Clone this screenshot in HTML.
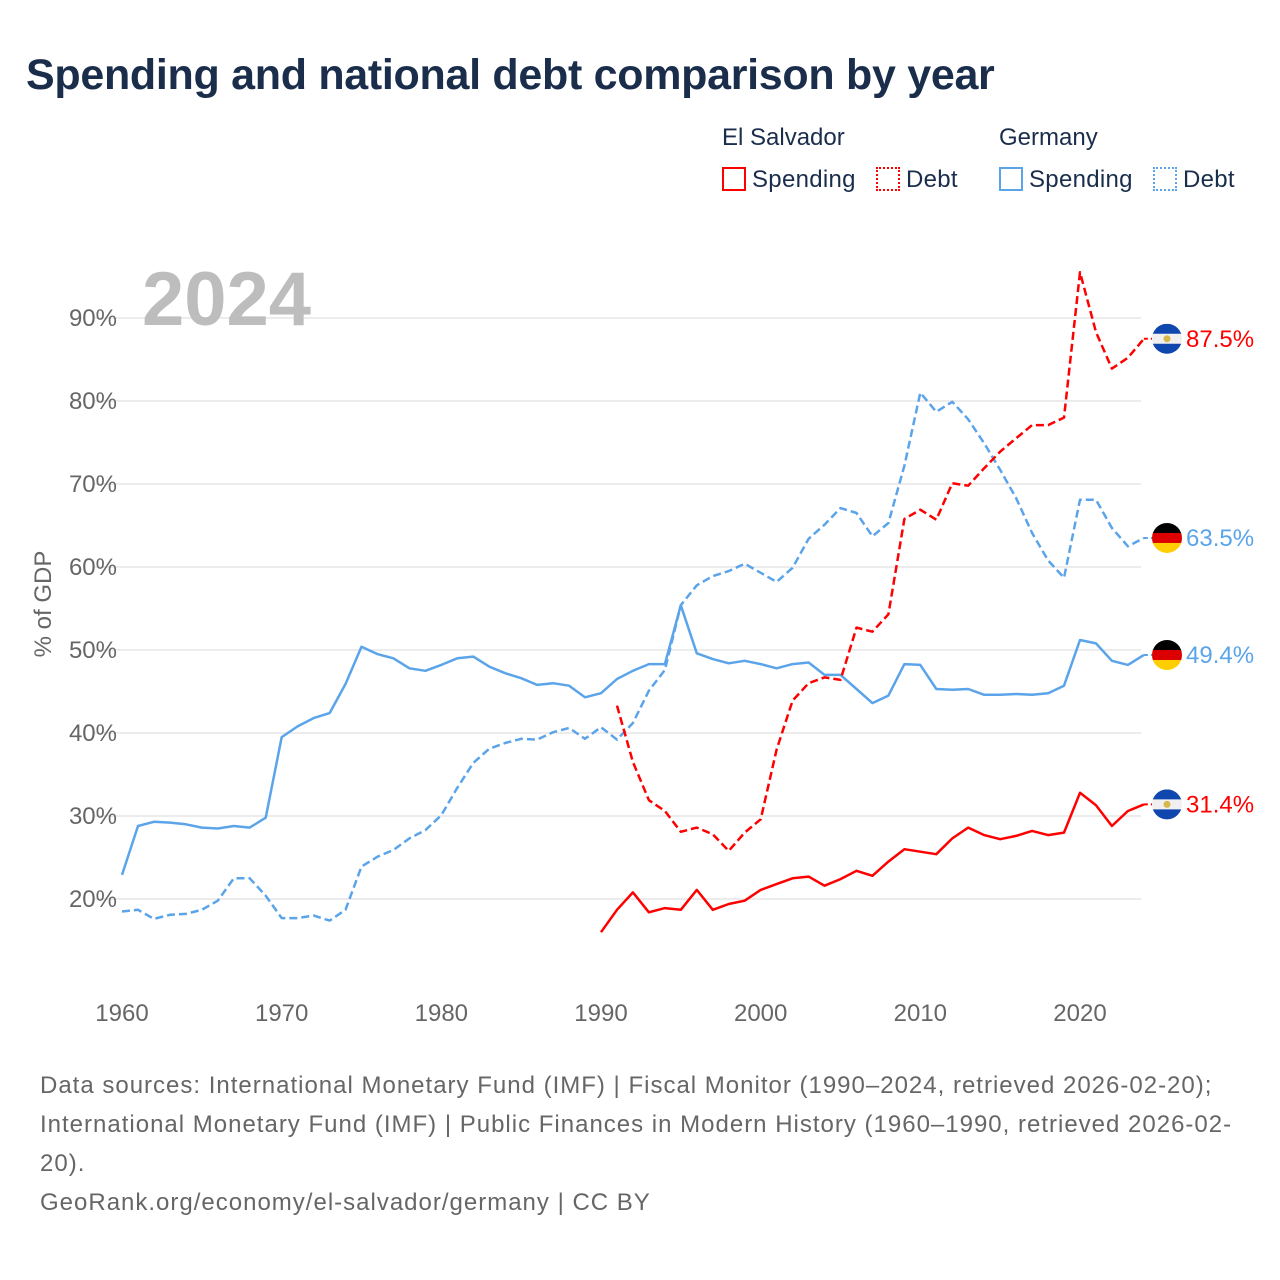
<!DOCTYPE html>
<html><head><meta charset="utf-8"><style>
body{margin:0;background:#fff;font-family:"Liberation Sans",sans-serif;}
#wrap{position:relative;width:1280px;height:1280px;overflow:hidden;}
.t{position:absolute;white-space:nowrap;}
</style></head><body>
<div id="wrap">
<div class="t" style="left:26px;top:51px;font-size:43px;font-weight:bold;color:#1a2e4c;letter-spacing:-0.3px">Spending and national debt comparison by year</div>
<div class="t" style="left:722px;top:124px;font-size:24px;color:#1a2e4c">El Salvador</div>
<div class="t" style="left:999px;top:124px;font-size:24px;color:#1a2e4c">Germany</div>
<div class="t" style="left:722px;top:166px;font-size:24px;color:#1a2e4c;letter-spacing:0.3px"><span style="display:inline-block;width:20px;height:20px;border:2px solid #f00;vertical-align:-4px;margin-right:6px"></span>Spending</div>
<div class="t" style="left:876px;top:166px;font-size:24px;color:#1a2e4c;letter-spacing:0.3px"><span style="display:inline-block;width:20px;height:20px;border:2px dotted #f00;vertical-align:-4px;margin-right:6px"></span>Debt</div>
<div class="t" style="left:999px;top:166px;font-size:24px;color:#1a2e4c;letter-spacing:0.3px"><span style="display:inline-block;width:20px;height:20px;border:2px solid #5ba4ea;vertical-align:-4px;margin-right:6px"></span>Spending</div>
<div class="t" style="left:1153px;top:166px;font-size:24px;color:#1a2e4c;letter-spacing:0.3px"><span style="display:inline-block;width:20px;height:20px;border:2px dotted #5ba4ea;vertical-align:-4px;margin-right:6px"></span>Debt</div>
<svg id="chart" width="1280" height="1280" style="position:absolute;left:0;top:0" font-family="Liberation Sans, sans-serif"></svg>
<div class="t" style="left:40px;top:1066px;font-size:24px;line-height:39px;color:#666;letter-spacing:1px">Data sources: International Monetary Fund (IMF) | Fiscal Monitor (1990–2024, retrieved 2026-02-20);<br>International Monetary Fund (IMF) | Public Finances in Modern History (1960–1990, retrieved 2026-02-<br>20).<br>GeoRank.org/economy/el-salvador/germany | CC BY</div>
</div>
<script>
const yTicks=[20,30,40,50,60,70,80,90];
const xTicks=[1960,1970,1980,1990,2000,2010,2020];
const deSpendStart=1960;
const deSpend=[22.9,28.8,29.3,29.2,29.0,28.6,28.5,28.8,28.6,29.8,39.5,40.8,41.8,42.4,45.9,50.4,49.5,49.0,47.8,47.5,48.2,49.0,49.2,48.0,47.2,46.6,45.8,46.0,45.7,44.3,44.8,46.5,47.5,48.3,48.3,55.4,49.6,48.9,48.4,48.7,48.3,47.8,48.3,48.5,47.0,47.0,45.3,43.6,44.5,48.3,48.2,45.3,45.2,45.3,44.6,44.6,44.7,44.6,44.8,45.7,51.2,50.8,48.7,48.2,49.4];
const deDebt=[18.5,18.7,17.6,18.1,18.2,18.7,19.8,22.5,22.5,20.4,17.7,17.7,18.0,17.4,18.7,23.9,25.1,25.9,27.3,28.3,30.1,33.4,36.4,38.1,38.8,39.3,39.2,40.1,40.6,39.3,40.7,39.2,41.2,45.1,47.6,55.4,57.8,58.9,59.5,60.4,59.3,58.2,59.9,63.4,65.1,67.1,66.5,63.7,65.3,72.2,81.0,78.7,79.9,77.8,74.9,71.7,68.3,64.1,60.8,58.7,68.1,68.1,64.7,62.5,63.5];
const esSpendStart=1990;
const esSpend=[16.0,18.7,20.8,18.4,18.9,18.7,21.1,18.7,19.4,19.8,21.1,21.8,22.5,22.7,21.6,22.4,23.4,22.8,24.5,26.0,25.7,25.4,27.3,28.6,27.7,27.2,27.6,28.2,27.7,28.0,32.8,31.3,28.8,30.6,31.4];
const esDebtStart=1991;
const esDebt=[43.3,36.5,31.9,30.6,28.1,28.6,27.8,25.8,28.0,29.6,38.0,43.9,46.0,46.7,46.4,52.7,52.2,54.3,65.8,66.9,65.7,70.1,69.8,71.9,73.9,75.5,77.1,77.1,78.0,95.5,88.3,83.9,85.2,87.5];

const NS='http://www.w3.org/2000/svg';
const svg=document.getElementById('chart');
const X=yr=>122+(yr-1960)*(1080-122)/60;
const Y=v=>899-(v-20)*8.3;
function mk(tag,attrs,parent){const e=document.createElementNS(NS,tag);for(const k in attrs)e.setAttribute(k,attrs[k]);(parent||svg).appendChild(e);return e;}

yTicks.forEach(v=>{
  const l=mk('line',{x1:95,x2:1141,y1:Y(v),y2:Y(v),stroke:'#e6e6e6','stroke-width':1.5});
  
  
  const t=mk('text',{x:117,y:Y(v)+8,'text-anchor':'end','font-size':24,fill:'#666'});
  t.textContent=v+'%';
  
  
});
xTicks.forEach(v=>{
  const t=mk('text',{x:X(v),y:1021,'text-anchor':'middle','font-size':24,fill:'#666'});
  t.textContent=v;
  
  
});
const yt=mk('text',{x:0,y:0,transform:'translate(51,604) rotate(-90)','text-anchor':'middle','font-size':24,fill:'#666'});
yt.textContent='% of GDP';


const yr=mk('text',{x:142,y:325,'font-size':76,'font-weight':'bold',fill:'#bdbdbd'});
yr.textContent='2024';



function series(vals,start,color,dash,name){
  const d=vals.map((v,i)=>(i?'L':'M')+X(start+i).toFixed(1)+','+Y(v).toFixed(1)).join(' ');
  const p=mk('path',{d:d,fill:'none',stroke:color,'stroke-width':2.5,'stroke-linejoin':'round'});
  if(dash)p.setAttribute('stroke-dasharray','8 4');
  
  
  const last=vals[vals.length-1];
  const s=mk('line',{x1:X(start+vals.length-1),x2:1152,y1:Y(last),y2:Y(last),stroke:color,'stroke-width':2,'stroke-dasharray':'4 3'});
  
  
  return last;
}
function flag(y,c,name){
  const g=mk('g',{});
  
  
  const id='c'+Math.round(y);
  const cp=mk('clipPath',{id:id},g);mk('circle',{cx:1167,cy:y,r:15},cp);
  const h=30/3;
  c.forEach((col,i)=>mk('rect',{x:1152,y:y-15+i*h,width:30,height:h+0.5,fill:col,'clip-path':'url(#'+id+')'},g));
  if(c[0]==='#0f47af'){mk('circle',{cx:1167,cy:y,r:3.5,fill:'#d8b84a'},g);}
}
function label(y,v,color,name){
  const t=mk('text',{x:1186,y:y+8,'font-size':24,fill:color});
  t.textContent=v.toFixed(1)+'%';
  
  
}
const a=series(deSpend,deSpendStart,'#5ba4ea',false,'germany-spending-line');
const b=series(deDebt,deSpendStart,'#5ba4ea',true,'germany-debt-line');
const c=series(esSpend,esSpendStart,'#ff0000',false,'el-salvador-spending-line');
const d=series(esDebt,esDebtStart,'#ff0000',true,'el-salvador-debt-line');
const es=['#0f47af','#f0f0f0','#0f47af'],de=['#000','#dd0000','#ffce00'];
flag(Y(d),es,'el-salvador-flag-debt');label(Y(d),d,'#ff0000','el-salvador-debt-value');
flag(Y(b),de,'germany-flag-debt');label(Y(b),b,'#5ba4ea','germany-debt-value');
flag(Y(a),de,'germany-flag-spending');label(Y(a),a,'#5ba4ea','germany-spending-value');
flag(Y(c),es,'el-salvador-flag-spending');label(Y(c),c,'#ff0000','el-salvador-spending-value');
</script>
</body></html>
